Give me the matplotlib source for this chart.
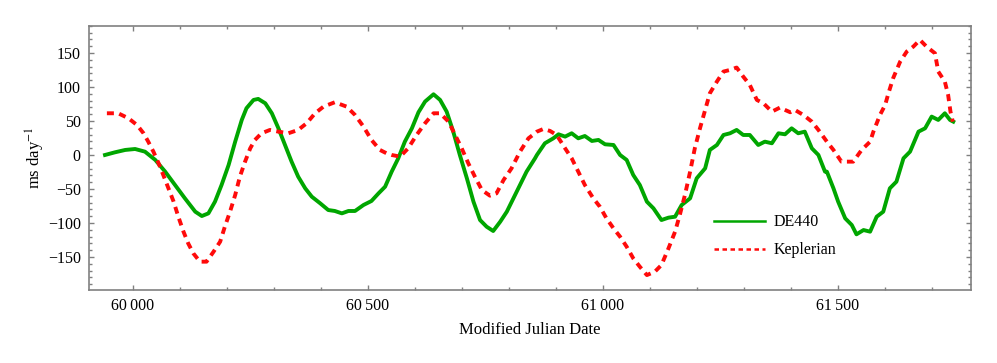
import numpy as np
import matplotlib
matplotlib.use("Agg")
import matplotlib.pyplot as plt
from matplotlib.ticker import MultipleLocator, FuncFormatter

# DE440 (solid green)
de440_mjd = [59941, 59962, 59984, 60005, 60026, 60048, 60069, 60090, 60111, 60133,
             60147, 60161, 60175, 60189, 60204, 60218, 60232, 60242, 60257, 60267,
             60282, 60296, 60310, 60324, 60338, 60352, 60367, 60381, 60399, 60416,
             60430, 60445, 60459, 60473, 60491, 60508, 60523, 60537, 60551, 60565,
             60579, 60594, 60608, 60622, 60640, 60654, 60668, 60682, 60696, 60711,
             60725, 60739, 60753, 60767, 60782, 60796, 60810, 60824, 60838, 60856,
             60860, 60877, 60895, 60906, 60920, 60934, 60948, 60962, 60977, 60991,
             61005, 61023, 61037, 61051, 61065, 61079, 61094, 61108, 61125, 61140,
             61154, 61168, 61186, 61200, 61218, 61228, 61243, 61257, 61271, 61285,
             61299, 61313, 61331, 61345, 61360, 61374, 61388, 61402, 61416, 61430,
             61445, 61459, 61473, 61477, 61491, 61501, 61516, 61530, 61540, 61555,
             61569, 61583, 61597, 61611, 61625, 61640, 61654, 61672, 61686, 61700,
             61714, 61728, 61739, 61746]
de440_val = [0.0, 3.9, 7.4, 8.8, 4.9, -7.3, -24.5, -44.1, -63.7, -83.3,
             -89.7, -85.8, -68.6, -44.1, -14.7, 19.6, 51.5, 68.7, 80.9, 82.4,
             76.0, 61.3, 39.2, 14.7, -9.8, -31.8, -49.0, -61.3, -71.1, -80.9,
             -82.3, -85.8, -82.3, -82.3, -73.5, -67.6, -56.4, -46.6, -24.5, -4.9,
             19.6, 39.2, 62.8, 78.5, 89.2, 80.9, 63.7, 34.3, 0.0, -34.3,
             -68.6, -95.6, -105.4, -111.7, -98.0, -83.3, -63.7, -44.1, -24.5, -4.9,
             0.0, 17.2, 24.5, 30.4, 27.0, 31.9, 24.5, 27.9, 20.6, 22.1,
             15.7, 14.7, 0.0, -7.3, -29.4, -44.1, -68.6, -78.4, -95.6, -92.1,
             -90.7, -73.5, -63.7, -34.3, -19.6, 7.4, 14.7, 29.4, 31.9, 36.8,
             29.4, 29.4, 14.7, 19.6, 17.2, 31.9, 30.4, 39.2, 31.9, 34.3,
             9.8, 0.0, -24.5, -24.5, -49.0, -68.6, -93.1, -102.9, -116.6, -110.3,
             -112.7, -90.7, -83.3, -49.0, -39.2, -4.9, 4.9, 34.3, 39.2, 56.4,
             51.5, 61.3, 51.5, 49.0]

# Keplerian (dashed red)
kep_mjd = [59945, 59969, 59991, 60009, 60023, 60033, 60044, 60055, 60065, 60076,
           60087, 60097, 60108, 60118, 60129, 60143, 60157, 60172, 60186, 60196,
           60207, 60218, 60228, 60239, 60250, 60260, 60274, 60292, 60310, 60331,
           60352, 60370, 60388, 60406, 60430, 60455, 60473, 60491, 60508, 60526,
           60540, 60551, 60569, 60586, 60604, 60622, 60640, 60654, 60672, 60686,
           60700, 60714, 60728, 60743, 60760, 60774, 60789, 60806, 60824, 60842,
           60856, 60860, 60874, 60888, 60902, 60920, 60934, 60948, 60962, 60980,
           60994, 61008, 61023, 61037, 61051, 61065, 61079, 61094, 61111, 61125,
           61140, 61154, 61164, 61175, 61186, 61196, 61207, 61218, 61228, 61243,
           61257, 61271, 61285, 61299, 61313, 61328, 61342, 61360, 61377, 61399,
           61409, 61427, 61445, 61459, 61477, 61491, 61508, 61533, 61551, 61569,
           61576, 61590, 61601, 61608, 61618, 61633, 61647, 61661, 61675, 61689,
           61707, 61714, 61728, 61735, 61740, 61745]
kep_val = [61.3, 61.3, 53.9, 44.1, 31.9, 19.6, 4.9, -12.2, -29.4, -49.0,
           -68.6, -90.7, -112.7, -129.9, -144.6, -156.8, -156.8, -142.1, -127.4, -105.4,
           -83.3, -58.8, -31.8, -9.8, 9.8, 22.1, 31.9, 36.8, 34.3, 31.9,
           36.8, 46.6, 61.3, 71.1, 77.5, 71.1, 58.8, 41.7, 22.1, 7.4,
           2.5, 0.0, -2.4, 9.8, 29.4, 46.6, 61.3, 61.3, 49.0, 29.4,
           9.8, -12.2, -31.8, -51.5, -59.8, -56.4, -36.8, -19.6, 4.9, 24.5,
           31.9, 34.3, 38.3, 35.3, 29.4, 9.8, -4.9, -24.5, -44.1, -63.7,
           -76.0, -93.1, -107.8, -120.1, -134.8, -151.9, -164.2, -176.5, -171.5, -161.7,
           -137.2, -112.7, -88.2, -58.8, -24.5, 9.8, 39.2, 66.2, 90.7, 107.9,
           122.6, 125.0, 128.5, 115.2, 103.0, 80.9, 76.0, 63.7, 69.6, 62.8,
           66.2, 58.8, 49.0, 36.8, 19.6, 7.4, -9.8, -9.8, 7.4, 19.6,
           34.3, 58.8, 73.5, 90.7, 112.8, 137.3, 152.0, 159.3, 169.1, 159.3,
           149.5, 122.6, 107.9, 88.3, 63.7, 49.0]

plt.rcParams['font.family'] = ['Liberation Serif', 'DejaVu Serif']
plt.rcParams['font.size'] = 11.5
plt.rcParams['mathtext.fontset'] = 'stix'

fig = plt.figure(figsize=(9.97, 3.63), dpi=100)
ax = fig.add_axes([0.0893, 0.2019, 0.8843, 0.7273])

ax.plot(de440_mjd, de440_val, color='#00a600', lw=2.8, label='DE440')
ax.plot(kep_mjd, kep_val, color='#ff0a0a', lw=2.8, dashes=(1.8, 1.4), label='Keplerian')

ax.set_xlim(59907, 61783)
ax.set_ylim(-198, 190)

ax.xaxis.set_major_locator(MultipleLocator(500))
ax.xaxis.set_minor_locator(MultipleLocator(100))
ax.yaxis.set_major_locator(MultipleLocator(50))
ax.yaxis.set_minor_locator(MultipleLocator(10))
ax.xaxis.set_major_formatter(FuncFormatter(
    lambda v, p: f"{int(v) // 1000}\u2009{int(v) % 1000:03d}"))
ax.yaxis.set_major_formatter(FuncFormatter(
    lambda v, p: f"\u2212{-int(v)}" if v < 0 else f"{int(v)}"))

frame = '#808080'
for s in ax.spines.values():
    s.set_color(frame)
    s.set_linewidth(1.2)
ax.tick_params(which='both', direction='in', top=True, right=True,
               color=frame, width=1.0, labelsize=11.5, labelcolor='black')
ax.tick_params(which='major', length=3.5, pad=6)
ax.tick_params(which='minor', length=2.0)

ax.set_xlabel('Modified Julian Date', fontsize=12, labelpad=6)
ax.set_ylabel('ms day$^{-1}$', fontsize=12)
ax.yaxis.set_label_coords(-0.048, 0.5)

leg = ax.legend(loc='upper left', bbox_to_anchor=(0.693, 0.34), frameon=False,
                handlelength=3.2, handletextpad=0.5, labelspacing=0.75, fontsize=11.5)
for h in leg.get_lines():
    h.set_linewidth(1.8)

fig.savefig('out.png', dpi=100)
